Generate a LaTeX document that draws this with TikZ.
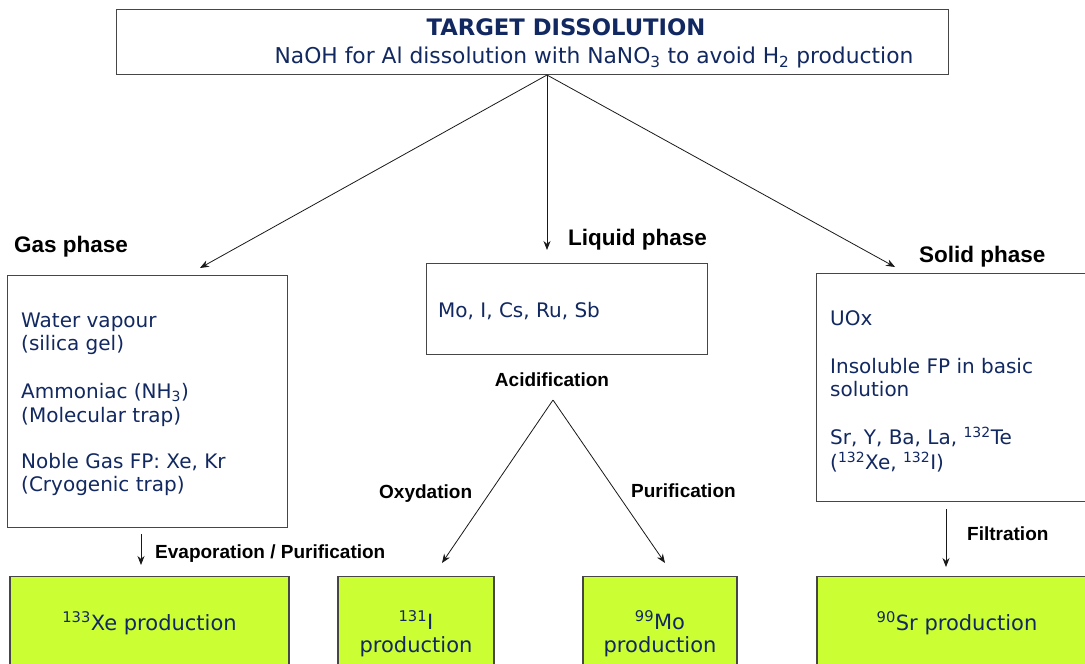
\documentclass[tikz,border=0pt]{standalone}
\usepackage{fontspec}
\setmainfont{DejaVu Sans}
\newfontfamily\labfont{Liberation Sans}
\usetikzlibrary{arrows.meta}
\definecolor{navy}{RGB}{18,40,96}
\definecolor{limebox}{RGB}{204,255,51}
\definecolor{edgegray}{RGB}{70,70,70}
\begin{document}
\begin{tikzpicture}[x=1pt,y=-1pt,
  box/.style={draw=edgegray,line width=1.2pt,fill=white,inner sep=0pt,anchor=north west},
  prod/.style={draw=edgegray,line width=1.2pt,fill=limebox,text=navy,inner sep=0pt,anchor=north,
    font=\fontsize{21}{23}\selectfont,align=center},
  arr/.style={-{Stealth[length=9pt,width=7pt]},line width=0.8pt,draw=black!90},
  phase/.style={font=\labfont\bfseries\fontsize{22.5}{26}\selectfont,anchor=base west,inner sep=0pt},
  lbl/.style={font=\labfont\bfseries\fontsize{19}{22}\selectfont,anchor=base west,inner sep=0pt},
  body/.style={text=navy,font=\fontsize{20}{23.5}\selectfont,anchor=base west,inner sep=0pt}
]
\useasboundingbox[fill=white] (0,0) rectangle (1085,664);

% top box
\node[box,minimum width=832pt,minimum height=65pt] (top) at (116,9) {};
\node[text=navy,font=\bfseries\fontsize{22.7}{26}\selectfont,anchor=base,inner sep=0pt] (title) at (566,35) {TARGET DISSOLUTION};
\node[text=navy,font=\fontsize{21.8}{26}\selectfont,anchor=base,inner sep=0pt] (sub) at (594,63)
  {NaOH for Al dissolution with NaNO\textsubscript{3} to avoid H\textsubscript{2} production};

% phase boxes
\node[box,minimum width=280pt,minimum height=252pt] (gas) at (7,275) {};
\node[box,minimum width=281pt,minimum height=91pt] (liq) at (426,263) {};
\node[box,minimum width=280pt,minimum height=228pt] (sol) at (816,273) {};

\node[phase] (gaslab) at (14,252) {Gas phase};
\node[phase] (liqlab) at (568,245) {Liquid phase};
\node[phase] (sollab) at (919,262) {Solid phase};

\node[body] (gastext) at (21,327) {\begin{tabular}[t]{@{}l@{}}
Water vapour\\(silica gel)\\[24.5pt]
Ammoniac (NH\textsubscript{3})\\(Molecular trap)\\[22.5pt]
Noble Gas FP: Xe, Kr\\(Cryogenic trap)\end{tabular}};
\node[body] (liqtext) at (438,317) {Mo, I, Cs, Ru, Sb};
\node[body] (soltext) at (830,325) {\begin{tabular}[t]{@{}l@{}}
UOx\\[24.5pt]
Insoluble FP in basic\\solution\\[23.5pt]
Sr, Y, Ba, La, \textsuperscript{132}Te\\(\textsuperscript{132}Xe, \textsuperscript{132}I)\end{tabular}};

% process labels
\node[lbl,anchor=base] (acid) at (552,386) {Acidification};
\node[lbl] (oxy) at (379,498) {Oxydation};
\node[lbl] (pur) at (631,497) {Purification};
\node[lbl] (evap) at (155,558) {Evaporation / Purification};
\node[lbl] (filt) at (967,540) {Filtration};

% product boxes
\node[prod,minimum width=279pt,minimum height=93pt] (xe) at (149.5,576) {\textsuperscript{133}Xe production};
\node[prod,minimum width=156pt,minimum height=114pt] (iod) at (416,576) {\textsuperscript{131}I\\production};
\node[prod,minimum width=154pt,minimum height=114pt] (mo) at (660,576) {\textsuperscript{99}Mo\\production};
\node[prod,minimum width=280pt,minimum height=93pt] (sr) at (957,576) {\textsuperscript{90}Sr production};

% connector points
\coordinate (fan) at (547,75);
\coordinate (gasin) at (200,268);
\coordinate (liqin) at (547,250);
\coordinate (solin) at (895,267);
\coordinate (gasout) at (141,534);
\coordinate (xein) at (141,565);
\coordinate (apex) at (553,400);
\coordinate (iin) at (442,563);
\coordinate (moin) at (665,563);
\coordinate (solout) at (946,509);
\coordinate (srin) at (946,567);

\draw[arr] (fan) -- (gasin);
\draw[arr] (fan) -- (liqin);
\draw[arr] (fan) -- (solin);
\draw[arr] (gasout) -- (xein);
\draw[arr] (apex) -- (iin);
\draw[arr] (apex) -- (moin);
\draw[arr] (solout) -- (srin);
\end{tikzpicture}
\end{document}
